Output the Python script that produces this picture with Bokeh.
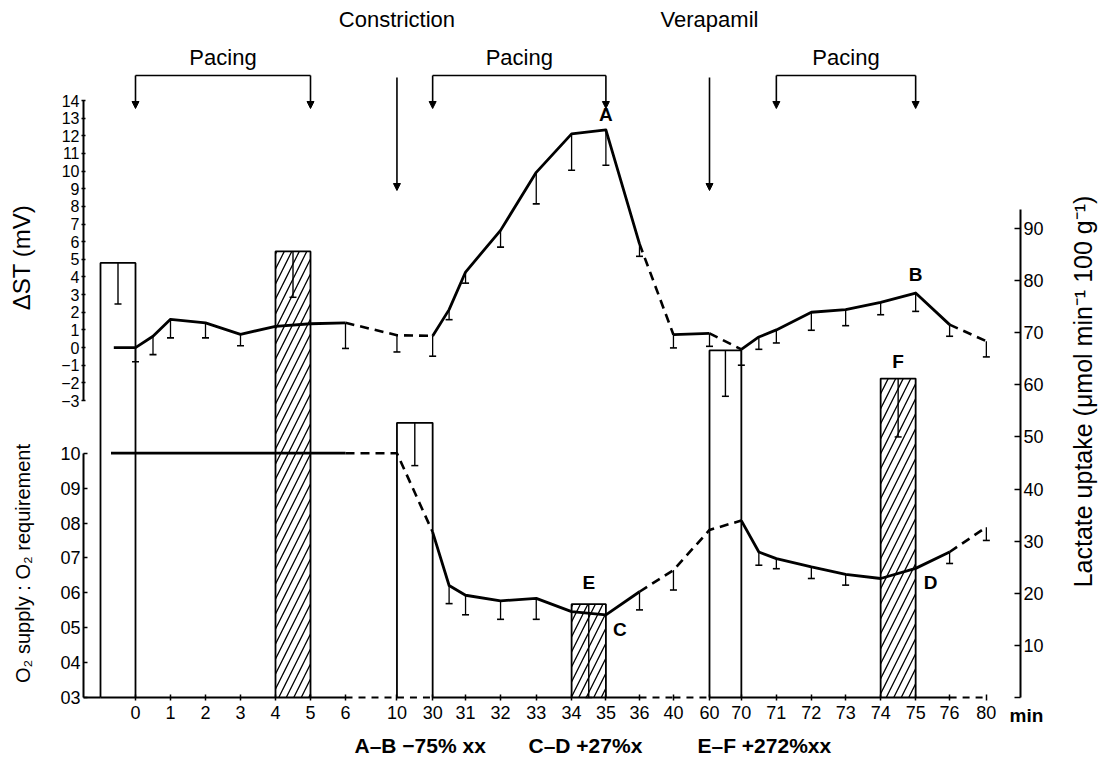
import math
import numpy as np
from bokeh.plotting import figure
from bokeh.models import Range1d, LinearAxis, FixedTicker, Label, Arrow, NormalHead
from bokeh.embed import file_html
from bokeh.resources import INLINE

# ---------------- data ----------------
# broken time axis: minute values and their slot position along the axis
axis_minutes = [-1, 0, 1, 2, 3, 4, 5, 6, 10, 30, 31, 32, 33, 34, 35, 36, 40, 60, 70, 71, 72, 73, 74, 75, 76, 80]
axis_slots = [-1, 0, 1, 2, 3, 4, 5, 6, 7.47, 8.49, 9.43, 10.43, 11.45, 12.46, 13.44, 14.4, 15.37,
              16.4, 17.31, 18.31, 19.31, 20.29, 21.29, 22.29, 23.26, 24.31]
time_tick_labels = ["0", "1", "2", "3", "4", "5", "6", "10", "30", "31", "32", "33", "34", "35",
                    "36", "40", "60", "70", "71", "72", "73", "74", "75", "76", "80"]

# Delta ST (mV), mean and SD (control value plotted before minute 0)
st_minutes = [-0.62, 0, 0.5, 1, 2, 3, 4, 5, 6, 10, 30, 30.5, 31, 32, 33, 34, 35, 36, 40, 60, 70,
              70.5, 71, 72, 73, 74, 75, 76, 80]
st_mean = [0.0, 0.0, 0.64, 1.6, 1.4, 0.75, 1.2, 1.35, 1.4, 0.7, 0.66, 2.15, 4.28, 6.64, 9.93, 12.11,
           12.34, 5.88, 0.73, 0.8, -0.1, 0.6, 1.0, 2.0, 2.15, 2.56, 3.09, 1.3, 0.36]
st_sd = [np.nan, 0.8, 1.04, 1.05, 0.85, 0.65, np.nan, np.nan, 1.45, 0.95, 1.15, 0.57, 0.63, 0.95,
         1.79, 2.06, 2.01, 0.71, 0.75, 0.73, 0.9, 0.7, 0.74, 1.02, 0.91, 0.7, 1.04, 0.66, 0.89]
st_dashed_spans = [(6, 30), (36, 40), (60, 70), (76, 80)]

# O2 supply : O2 requirement
o2_minutes = [-0.7, 0, 1, 2, 3, 4, 5, 6, 10, 30, 30.5, 31, 32, 33, 34, 35, 36, 40, 60, 70, 70.5,
              71, 72, 73, 74, 75, 76, 80]
o2_mean = [1.0, 1.0, 1.0, 1.0, 1.0, 1.0, 1.0, 1.0, 1.0, 0.774, 0.621, 0.593, 0.577, 0.584, 0.546,
           0.537, 0.603, 0.665, 0.78, 0.807, 0.717, 0.698, 0.674, 0.653, 0.641, 0.67, 0.717, 0.788]
o2_sd = [np.nan] * 9 + [np.nan, 0.052, 0.056, 0.053, 0.06, np.nan, np.nan, 0.052, 0.057, np.nan,
                        np.nan, 0.038, 0.029, 0.033, 0.031, np.nan, np.nan, 0.033, 0.038]
o2_dashed_spans = [(6, 30), (36, 70), (76, 80)]

# Lactate uptake bars (umol/min/100 g)
bar_start = [-1, 4, 10, 34, 60, 74]
bar_end = [0, 5, 30, 35, 70, 75]
bar_lactate = [83.4, 85.6, 52.7, 17.9, 66.6, 61.2]
bar_lactate_sd = [7.9, 8.8, 8.2, 17.9, 8.8, 11.2]
bar_phase = ["rest", "pacing", "rest", "pacing", "rest", "pacing"]

baseline_dashed_spans = [(6, 30), (36, 60), (76, 80)]

pacing_periods = [(0, 5), (30, 35), (71, 75)]
interventions = ["Constriction", "Verapamil"]
intervention_minutes = [10, 60]

st_ticks = list(range(-3, 15))
st_tick_labels = [("\u2212" + str(-t)) if t < 0 else str(t) for t in st_ticks]
o2_ticks = [0.3, 0.4, 0.5, 0.6, 0.7, 0.8, 0.9, 1.0]
o2_tick_labels = ["03", "04", "05", "06", "07", "08", "09", "10"]
lact_ticks = [0, 10, 20, 30, 40, 50, 60, 70, 80, 90]
lact_tick_labels = ["", "10", "20", "30", "40", "50", "60", "70", "80", "90"]

notes = ["A\u2013B  \u221275% xx", "C\u2013D  +27%x", "E\u2013F  +272%xx"]

# ---------------- layout helpers ----------------
W, H = 1105, 764
PX_L, PX_R, PX_T, PX_B = 0, W, 0, H          # frame covers the whole canvas
AX_LEFT_PX, AX_RIGHT_PX = 83, 1020           # where the axes sit
SLOT0_PX, SLOT_W = 135.0, 35.0
FONT = "Liberation Sans"


def slot(m):
    return np.interp(m, axis_minutes, axis_slots)


def px_to_slot(px):
    return (px - SLOT0_PX) / SLOT_W


def make_range(v1, p1, v2, p2):
    k = (p2 - p1) / (v2 - v1)
    return Range1d(v1 + (PX_B - p1) / k, v1 + (PX_T - p1) / k)


def mapper(v1, p1, v2, p2):
    k = (v2 - v1) / (p2 - p1)
    return lambda px: v1 + (px - p1) * k


lact_range = make_range(0, 697, 90, 228)
st_range = make_range(14, 100, -3, 400)
o2_range = make_range(1.0, 452.7, 0.3, 697)
st_at = mapper(14, 100, -3, 400)
o2_at = mapper(1.0, 452.7, 0.3, 697)
lact_at = mapper(0, 697, 90, 228)

x_range = Range1d(px_to_slot(PX_L), px_to_slot(PX_R))

p = figure(width=W, height=H, x_range=x_range, y_range=lact_range,
           output_backend="svg", toolbar_location=None,
           x_axis_location=None, y_axis_location=None,
           min_border=0, min_border_left=0, min_border_right=0, min_border_top=0,
           min_border_bottom=0)
p.extra_y_ranges = {"st": st_range, "o2": o2_range}
p.xgrid.visible = False
p.ygrid.visible = False
p.outline_line_color = None
p.background_fill_color = "white"
p.border_fill_color = "white"


def style_axis(ax, size, tin, tout, standoff):
    ax.axis_line_width = 2
    ax.axis_line_color = "black"
    ax.major_tick_line_width = 1.5
    ax.major_tick_in = tin
    ax.major_tick_out = tout
    ax.minor_tick_line_color = None
    ax.major_label_text_font = FONT
    ax.major_label_text_font_size = f"{size}px"
    ax.major_label_text_color = "black"
    ax.major_label_standoff = standoff


# right axis: lactate uptake
ra = LinearAxis(ticker=FixedTicker(ticks=lact_ticks),
                major_label_overrides=dict(zip(lact_ticks, lact_tick_labels)),
                bounds=(0, 93.6), fixed_location=px_to_slot(AX_RIGHT_PX))
style_axis(ra, 18, 6, 0, 3)
p.add_layout(ra, "right")

# left axes
o2_axis = LinearAxis(y_range_name="o2", bounds=(0.3, 1.0), ticker=FixedTicker(ticks=o2_ticks),
                     major_label_overrides=dict(zip(o2_ticks, o2_tick_labels)),
                     fixed_location=px_to_slot(AX_LEFT_PX))
style_axis(o2_axis, 18, 4, 0, 3)
p.add_layout(o2_axis, "left")

st_axis = LinearAxis(y_range_name="st", bounds=(-3, 14), ticker=FixedTicker(ticks=st_ticks),
                     major_label_overrides=dict(zip(st_ticks, st_tick_labels)),
                     fixed_location=px_to_slot(AX_LEFT_PX))
style_axis(st_axis, 16, 2, 2, 2)
p.add_layout(st_axis, "left")

# bottom axis: time (broken); its line is drawn below as solid/dashed pieces
tick_slots = axis_slots[1:]
xa = LinearAxis(ticker=FixedTicker(ticks=tick_slots),
                major_label_overrides=dict(zip(tick_slots, time_tick_labels)),
                fixed_location=0)
style_axis(xa, 18, 3, 3, 5)
xa.axis_line_color = None
p.add_layout(xa, "below")

# ---------------- bars ----------------
bl = slot(bar_start)
br = slot(bar_end)
for i in range(len(bar_lactate)):
    kw = dict(fill_color="white", line_color=None)
    if bar_phase[i] == "pacing":
        kw.update(hatch_pattern="/", hatch_color="black", hatch_scale=15, hatch_weight=1.3)
    p.quad(left=bl[i], right=br[i], bottom=0, top=bar_lactate[i], **kw)
p.multi_line(xs=[[l, l, r, r] for l, r in zip(bl, br)],
             ys=[[0, t, t, 0] for t in bar_lactate], line_color="black", line_width=1.8)
bc = (bl + br) / 2
blow = [t - s for t, s in zip(bar_lactate, bar_lactate_sd)]
p.segment(x0=bc, y0=bar_lactate, x1=bc, y1=blow, line_color="black", line_width=1.4)
p.scatter(x=bc, y=blow, marker="dash", size=7, line_color="black", line_width=1.5)


# ---------------- baseline (time axis line) ----------------
def in_spans(a, b, spans):
    return any(s0 <= a and b <= s1 for s0, s1 in spans)


base_x = [px_to_slot(AX_LEFT_PX)] + list(axis_slots)
base_m = [-2] + list(axis_minutes)
for i in range(len(base_x) - 1):
    dashed = in_spans(base_m[i], base_m[i + 1], baseline_dashed_spans)
    p.segment(x0=base_x[i], y0=0, x1=base_x[i + 1], y1=0, line_color="black", line_width=2,
              line_dash="7 6" if dashed else "solid")


# ---------------- series lines ----------------
def draw_series(mins, means, sds, spans, rng):
    xs = slot(mins)
    runs = {"solid": [], "dashed": []}
    cur, cur_style = None, None
    for i in range(len(mins) - 1):
        style = "dashed" if in_spans(mins[i], mins[i + 1], spans) else "solid"
        if style != cur_style:
            if cur is not None:
                runs[cur_style].append(cur)
            cur = ([xs[i]], [means[i]])
            cur_style = style
        cur[0].append(xs[i + 1])
        cur[1].append(means[i + 1])
    runs[cur_style].append(cur)
    if runs["solid"]:
        p.multi_line(xs=[r[0] for r in runs["solid"]], ys=[r[1] for r in runs["solid"]],
                     line_color="black", line_width=2.8, line_join="round", y_range_name=rng)
    if runs["dashed"]:
        p.multi_line(xs=[r[0] for r in runs["dashed"]], ys=[r[1] for r in runs["dashed"]],
                     line_color="black", line_width=2.6, line_dash="9 6", y_range_name=rng)
    sd = np.array(sds, dtype=float)
    mean = np.array(means, dtype=float)
    ok = ~np.isnan(sd)
    low = mean[ok] - sd[ok]
    p.segment(x0=xs[ok], y0=mean[ok], x1=xs[ok], y1=low, line_color="black", line_width=1.3,
              y_range_name=rng)
    p.scatter(x=xs[ok], y=low, marker="dash", size=7, line_color="black", line_width=1.6,
              y_range_name=rng)


draw_series(st_minutes, st_mean, st_sd, st_dashed_spans, "st")
draw_series(o2_minutes, o2_mean, o2_sd, o2_dashed_spans, "o2")


# ---------------- annotations ----------------
def label(x, y, text, rng="default", size=18, weight="normal", align="center", baseline="middle",
          angle=0.0, xo=0, yo=0):
    p.add_layout(Label(x=x, y=y, text=text, y_range_name=rng, text_font=FONT,
                       text_font_size=f"{size}px", text_font_style=weight, text_color="black",
                       text_align=align, text_baseline=baseline, angle=angle,
                       x_offset=xo, y_offset=yo))


def arrow(x, y0, y1):
    p.add_layout(Arrow(x_start=x, y_start=y0, x_end=x, y_end=y1, y_range_name="st",
                       line_color="black", line_width=1.6,
                       end=NormalHead(size=7, fill_color="black", line_color="black", line_width=1)))


bracket_y, arrow_tip_y = st_at(75), st_at(108)
for a, b in pacing_periods:
    xa_, xb_ = float(slot(a)), float(slot(b))
    p.segment(x0=xa_, y0=bracket_y, x1=xb_, y1=bracket_y, line_color="black", line_width=1.6,
              y_range_name="st")
    arrow(xa_, bracket_y, arrow_tip_y)
    arrow(xb_, bracket_y, arrow_tip_y)
    label((xa_ + xb_) / 2, st_at(57), "Pacing", rng="st", size=22)

for name, m in zip(interventions, intervention_minutes):
    xm = float(slot(m))
    label(xm, st_at(19), name, rng="st", size=22)
    arrow(xm, st_at(77), st_at(190))

# point letters
i35 = st_minutes.index(35)
i75 = st_minutes.index(75)
label(float(slot(35)), st_mean[i35], "A", rng="st", baseline="bottom", yo=5, size=19, weight="bold")
label(float(slot(75)), st_mean[i75], "B", rng="st", baseline="bottom", yo=8, size=19, weight="bold")
j35 = o2_minutes.index(35)
j75 = o2_minutes.index(75)
label(float(slot(35)), o2_mean[j35], "C", rng="o2", align="left", xo=7, yo=-15, size=19, weight="bold")
label(float(slot(75)), o2_mean[j75], "D", rng="o2", align="left", xo=8, yo=-14, size=19, weight="bold")
label(float(bc[3]), bar_lactate[3], "E", baseline="bottom", yo=11, size=19, weight="bold")
label(float(bc[5]), bar_lactate[5], "F", baseline="bottom", yo=7, size=19, weight="bold")

# axis titles
label(px_to_slot(21), st_at(257), "\u0394ST (mV)", rng="st", size=24, angle=math.pi / 2)
label(px_to_slot(22), o2_at(563), "O\u2082 supply : O\u2082 requirement", rng="o2", size=20,
      angle=math.pi / 2)
label(px_to_slot(1082), lact_at(391), "Lactate uptake (\u03bcmol min\u207b\u00b9 100 g\u207b\u00b9)",
      size=25, angle=math.pi / 2)
label(px_to_slot(1009), lact_at(715), "min", size=19, weight="bold", align="left")

for text, px in zip(notes, [354, 528, 697]):
    label(px_to_slot(px), lact_at(745), text, size=21, weight="bold", align="left")

open("out.html", "w").write(file_html(p, INLINE))
